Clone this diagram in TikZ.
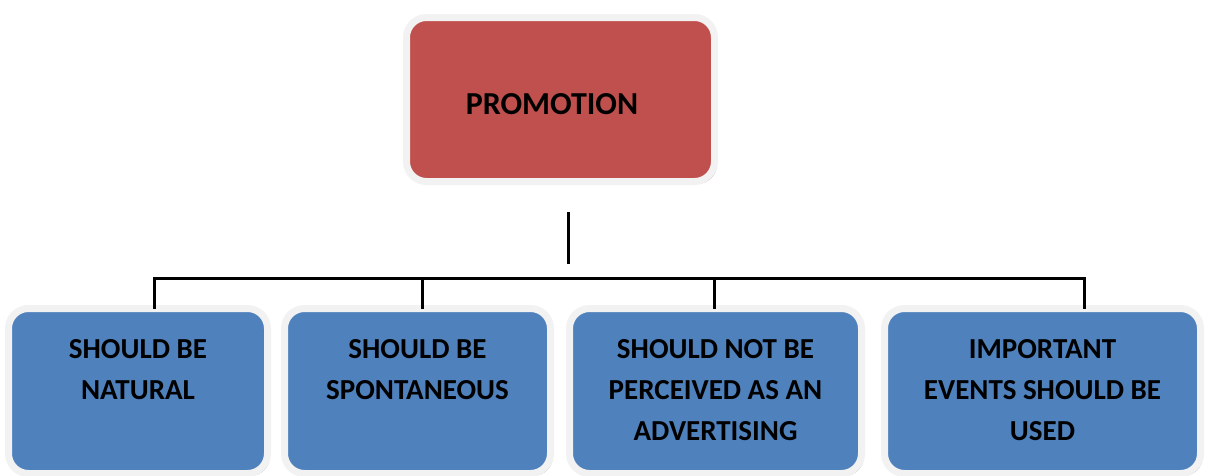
\documentclass[tikz,border=0pt]{standalone}
\usepackage{fontspec}
\setmainfont{Carlito}
\usetikzlibrary{shadows}
\definecolor{promored}{HTML}{C0504D}
\definecolor{itemblue}{HTML}{4F81BD}
\definecolor{rimgray}{HTML}{F2F2F2}
\definecolor{redshade}{HTML}{B08A8A}
\definecolor{blueshade}{HTML}{9AA6B8}
\tikzset{
  panel/.style={draw=rimgray, line width=7pt, rounded corners=20pt,
    inner sep=0pt, outer sep=0pt},
  headbox/.style={panel, fill=promored,
    drop shadow={shadow xshift=2.5pt, shadow yshift=-2.5pt, fill=redshade, opacity=1}},
  itembox/.style={panel, fill=itemblue,
    drop shadow={shadow xshift=2.5pt, shadow yshift=-2.5pt, fill=blueshade, opacity=1}},
  headtext/.style={font=\bfseries\fontsize{32pt}{36pt}\selectfont, inner sep=0pt},
  itemtext/.style={font=\bfseries\fontsize{29pt}{41pt}\selectfont, align=center,
    inner sep=0pt, anchor=north},
  link/.style={line width=3pt, black}
}
\begin{document}
\begin{tikzpicture}[x=1pt, y=-1pt]
  \useasboundingbox[fill=white] (0,0) rectangle (1211,475);

  % main heading
  \node[headbox, minimum width=308pt, minimum height=164pt] (top) at (560.5,99.5) {};
  \node[headtext] (toplabel) at (552,104) {PROMOTION};

  % four item boxes
  \node[itembox, minimum width=259pt, minimum height=165pt] (b1) at (138,391) {};
  \node[itembox, minimum width=266pt, minimum height=165pt] (b2) at (417.5,391) {};
  \node[itembox, minimum width=292pt, minimum height=165pt] (b3) at (715.5,391) {};
  \node[itembox, minimum width=316pt, minimum height=165pt] (b4) at (1042.5,391) {};

  \node[itemtext] (t1) at (138,339) {SHOULD BE\\NATURAL};
  \node[itemtext] (t2) at (417.5,339) {SHOULD BE\\SPONTANEOUS};
  \node[itemtext] (t3) at (715.5,339) {SHOULD NOT BE\\PERCEIVED AS AN\\ADVERTISING};
  \node[itemtext] (t4) at (1042.5,339) {IMPORTANT\\EVENTS SHOULD BE\\USED};

  % connector tree
  \coordinate (stemtop) at (568,212);
  \coordinate (stembot) at (568,264);
  \coordinate (busl) at (154,278);
  \coordinate (busr) at (1084,278);
  \coordinate (d1) at (154,278);
  \coordinate (d2) at (422,278);
  \coordinate (d3) at (714,278);
  \coordinate (d4) at (1084,278);

  \draw[link] (stemtop) -- (stembot);
  \draw[link, line cap=rect] (busl) -- (busr);
  \draw[link] (d1) -- (d1 |- b1.north);
  \draw[link] (d2) -- (d2 |- b2.north);
  \draw[link] (d3) -- (d3 |- b3.north);
  \draw[link] (d4) -- (d4 |- b4.north);
\end{tikzpicture}
\end{document}
